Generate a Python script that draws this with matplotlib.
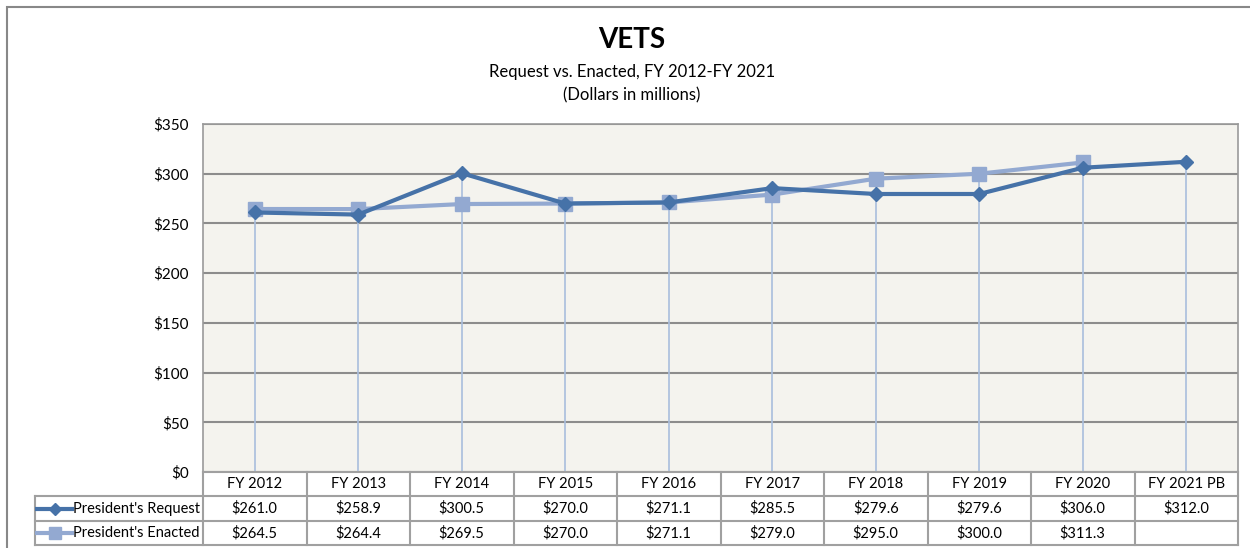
import numpy as np
import matplotlib
matplotlib.use("Agg")
from matplotlib import pyplot as plt
from matplotlib.lines import Line2D

years = ["FY 2012", "FY 2013", "FY 2014", "FY 2015", "FY 2016",
         "FY 2017", "FY 2018", "FY 2019", "FY 2020", "FY 2021 PB"]
request = [261.0, 258.9, 300.5, 270.0, 271.1, 285.5, 279.6, 279.6, 306.0, 312.0]
enacted = [264.5, 264.4, 269.5, 270.0, 271.1, 279.0, 295.0, 300.0, 311.3, None]
series_names = ["President's Request", "President's Enacted"]

dark_blue = "#4672A8"
light_blue = "#93A9D1"
drop_color = "#A9BEDD"
grid_color = "#8C8C8C"
border_color = "#9A9A9A"

plt.rcParams['font.family'] = ['Lato', 'DejaVu Sans']

W, H = 1250, 548
fig = plt.figure(figsize=(W / 100, H / 100), dpi=100)

# outer chart frame
fig.add_artist(plt.Rectangle((7 / W, -0.01), 1.01, 1 - 7 / H + 0.01,
                             transform=fig.transFigure, fill=False,
                             edgecolor="#888888", lw=1.5))

x0, x1 = 203, 1238
ytop, ybot = 124, 472
ax = fig.add_axes([x0 / W, 1 - ybot / H, (x1 - x0) / W, (ybot - ytop) / H])
ax.set_facecolor("#F4F3EE")

x = np.arange(len(years))
req = np.array(request, dtype=float)
enc = np.array([np.nan if v is None else v for v in enacted], dtype=float)

# drop lines
tops = np.fmax(req, enc)
ax.vlines(x, 0, tops, color=drop_color, lw=1.2, zorder=2)

ax.plot(x, req, color=dark_blue, lw=3, marker="D", ms=7, zorder=4)
ax.plot(x, enc, color=light_blue, lw=3, marker="s", ms=10, zorder=3)

ax.set_xlim(-0.5, len(years) - 0.5)
ax.set_ylim(0, 350)
ax.set_yticks(np.arange(0, 351, 50))
ax.set_yticklabels([f"${v}" for v in range(0, 351, 50)], fontsize=11)
ax.yaxis.grid(True, color=grid_color, lw=1.5)
ax.set_axisbelow(True)
ax.tick_params(axis="y", length=0, pad=10)
ax.set_xticks([])
for s in ax.spines.values():
    s.set_color(border_color)
    s.set_linewidth(1.2)

# data table
tx0, tx1 = 35, 1238
ty0, ty1 = 472, 545
cw = (x1 - x0) / len(years)
leg_w = (x0 - tx0) / cw
tax = fig.add_axes([tx0 / W, 1 - ty1 / H, (tx1 - tx0) / W, (ty1 - ty0) / H])
tax.set_xlim(-0.5 - leg_w, len(years) - 0.5)
tax.set_ylim(3, 0)
tax.axis("off")

lc = "#A0A0A0"
n = len(years)
tax.plot([-0.5, n - 0.5], [0, 0], color=lc, lw=1.5, clip_on=False)
for r in [1, 2, 3]:
    tax.plot([-0.5 - leg_w, n - 0.5], [r, r], color=lc, lw=1.5, clip_on=False)
for c in range(n + 1):
    tax.plot([c - 0.5, c - 0.5], [0, 3], color=lc, lw=1.5, clip_on=False)
tax.plot([-0.5 - leg_w] * 2, [1, 3], color=lc, lw=1.5, clip_on=False)

for i, y in enumerate(years):
    tax.text(i, 0.5, y, ha="center", va="center", fontsize=10.5)
for i, v in enumerate(request):
    tax.text(i, 1.5, f"${v:.1f}", ha="center", va="center", fontsize=10.5)
for i, v in enumerate(enacted):
    if v is not None:
        tax.text(i, 2.5, f"${v:.1f}", ha="center", va="center", fontsize=10.5)

# legend keys
kx0 = -0.5 - leg_w + 0.02
kx1 = kx0 + 0.34
for r, (name, col, mk, ms) in enumerate(zip(series_names, [dark_blue, light_blue],
                                             ["D", "s"], [6, 9])):
    yy = 1.5 + r
    tax.add_line(Line2D([kx0, kx1], [yy, yy], color=col, lw=3))
    tax.plot([(kx0 + kx1) / 2], [yy], marker=mk, ms=ms, color=col)
    tax.text(kx1 + 0.01, yy, name, ha="left", va="center", fontsize=10.5)

# titles
fig.text(632 / W, 1 - 40 / H, "VETS", ha="center", va="center",
         fontsize=20, fontweight="bold")
fig.text(632 / W, 1 - 72 / H, "Request vs. Enacted, FY 2012-FY 2021",
         ha="center", va="center", fontsize=12)
fig.text(632 / W, 1 - 95 / H, "(Dollars in millions)",
         ha="center", va="center", fontsize=12)

fig.savefig("out.png", dpi=100)
